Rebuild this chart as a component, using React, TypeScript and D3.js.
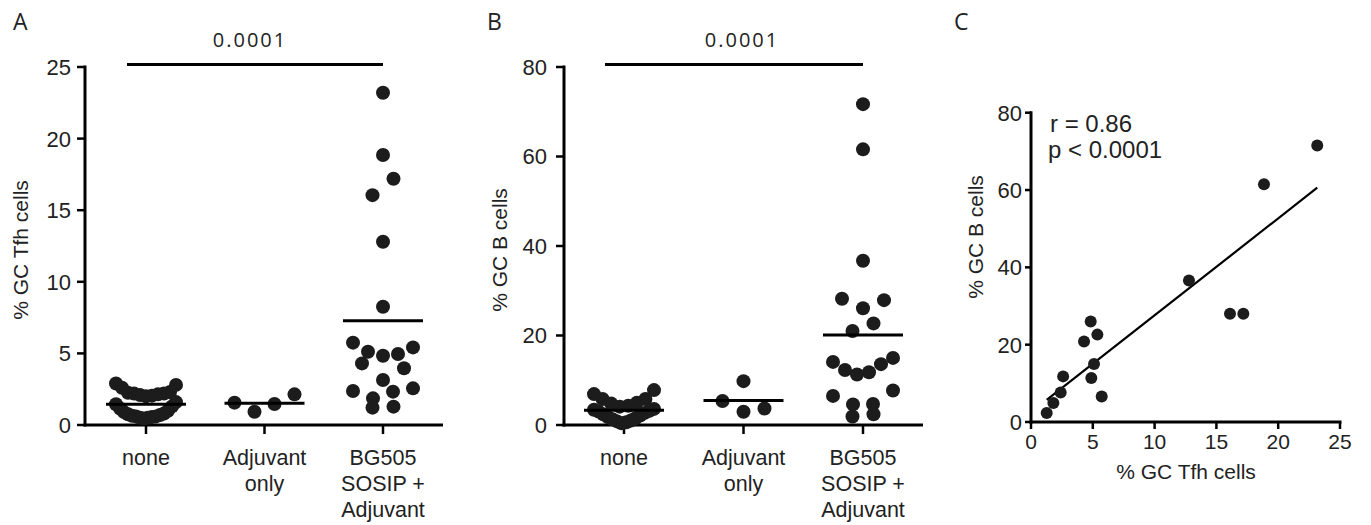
import React from "react";
import * as d3 from "d3";

// ---------- data ----------
const groups = ["none", "Adjuvant only", "BG505 SOSIP + Adjuvant"];
const groupLines = [["none"], ["Adjuvant", "only"], ["BG505", "SOSIP +", "Adjuvant"]];

const tfhNone = [2.9, 2.8, 2.6, 2.3, 2.25, 2.2, 2.2, 2.15, 2.1, 2.05, 2.0, 1.6, 1.45, 1.3, 1.15, 1.0, 0.9, 0.8, 0.75, 0.7, 0.65, 0.6, 0.6, 0.55, 0.5, 0.5, 0.45];
const tfhAdj = [2.14, 1.56, 1.47, 0.93];
const tfhBG = [23.2, 18.85, 17.2, 16.05, 12.8, 8.26, 5.75, 5.42, 5.12, 4.96, 4.84, 4.3, 3.96, 3.14, 2.56, 2.37, 2.33, 1.86, 1.28, 1.21];

const gcbNone = [7.8, 6.9, 5.8, 5.8, 5.0, 4.8, 4.3, 4.1, 3.6, 3.4, 3.2, 3.0, 2.7, 2.4, 2.1, 1.8, 1.5, 1.3, 1.0, 0.8, 0.6, 0.4];
const gcbAdj = [9.8, 5.36, 3.7, 2.97];
const gcbBG = [71.7, 61.6, 36.7, 28.2, 27.9, 26.1, 22.7, 21.0, 15.0, 14.1, 13.6, 12.3, 11.8, 11.3, 7.7, 6.5, 4.7, 4.6, 2.4, 1.9];

const corrTfh = [1.27, 1.81, 2.4, 2.6, 4.29, 4.83, 5.37, 5.1, 4.88, 5.72, 12.78, 16.1, 17.18, 18.85, 23.16];
const corrGcb = [2.3, 4.9, 7.6, 11.8, 20.8, 26.0, 22.6, 15.0, 11.4, 6.6, 36.6, 28.0, 28.0, 61.5, 71.5];

const ticksA = [0, 5, 10, 15, 20, 25];
const ticksB = [0, 20, 40, 60, 80];
const ticksCx = [0, 5, 10, 15, 20, 25];
const ticksCy = [0, 20, 40, 60, 80];

const pValue = "0.0001";
const rText = "r = 0.86";
const pText = "p < 0.0001";

// ---------- helpers ----------
const ARIAL = "'Liberation Sans', Arial, sans-serif";
const OPEN = "'Open Sans', 'Noto Sans', sans-serif";
const DOT = "#1c1c1c";

// Prism-like scatter-dot spreading: rows are built from the top down (a row
// spans at most ROW_H px); within a row the lowest point sits in the middle
// and the others alternate outwards, compressed to fit the column width.
const ROW_H = 17.5;
function spread(values: number[], y: (v: number) => number): number[] {
  const order = values.map((_, i) => i).sort((a, b) => values[b] - values[a]);
  const rows: number[][] = [];
  let cur: number[] = [];
  for (const i of order) {
    if (cur.length && y(values[i]) - y(values[cur[0]]) > ROW_H) {
      rows.push(cur);
      cur = [];
    }
    cur.push(i);
  }
  if (cur.length) rows.push(cur);
  const out = new Array(values.length).fill(0);
  for (const c of rows) {
    const asc = [...c].sort((a, b) => values[a] - values[b]);
    const n = asc.length;
    if (n === 1) continue;
    const step = Math.min(21, 60 / (n - 1));
    const slots: number[] = [];
    if (n % 2 === 1) {
      const m = (n - 1) / 2;
      slots.push(m);
      for (let k = 1; slots.length < n; k++) { slots.push(m + k); slots.push(m - k); }
    } else {
      const m1 = n / 2 - 1, m2 = n / 2;
      for (let k = 0; slots.length < n; k++) { slots.push(m1 - k); slots.push(m2 + k); }
    }
    asc.forEach((idx, j) => {
      out[idx] = (slots[j] - (n - 1) / 2) * step;
    });
  }
  return out;
}

type DotPanelProps = {
  axisX: number;
  right: number;
  catRange: [number, number];
  max: number;
  ticks: number[];
  data: number[][];
  yLabel: string;
  yLabelX: number;
  letter: string;
  letterX: number;
  pTextDx: number;
  tickGap: number;
};

const TOP = 67;
const BOTTOM = 425;

function DotPanel(props: DotPanelProps) {
  const { axisX, right, catRange, max, ticks, data, yLabel, yLabelX, letter, letterX, pTextDx, tickGap } = props;
  const y = d3.scaleLinear().domain([0, max]).range([BOTTOM, TOP]);
  const x = d3.scalePoint<string>().domain(groups).range(catRange);
  const bx0 = (x(groups[0]) as number) - 19;
  const bx1 = x(groups[2]) as number;
  return (
    <g>
      <text x={letterX} y={30} fontFamily={OPEN} fontSize={23} fill="#222">{letter}</text>
      <line x1={bx0} x2={bx1} y1={64.5} y2={64.5} stroke="#000" strokeWidth={3} />
      <text x={(bx0 + bx1) / 2 + pTextDx} y={47} textAnchor="middle" fontFamily={OPEN} fontSize={20} letterSpacing={2} fill="#222">{pValue}</text>
      <line x1={axisX} x2={axisX} y1={TOP - 1.5} y2={BOTTOM + 1.5} stroke="#000" strokeWidth={3} />
      {ticks.map((t) => (
        <g key={t}>
          <line x1={axisX - 8} x2={axisX} y1={y(t)} y2={y(t)} stroke="#000" strokeWidth={2.5} />
          <text x={axisX - tickGap} y={y(t)} dy="0.36em" textAnchor="end" fontFamily={ARIAL} fontSize={22} fill="#222">{t}</text>
        </g>
      ))}
      <text transform={`translate(${yLabelX},${(TOP + BOTTOM) / 2 + 4}) rotate(-90)`} textAnchor="middle" fontFamily={ARIAL} fontSize={21} fill="#222">{yLabel}</text>
      <line x1={axisX - 1.5} x2={right} y1={BOTTOM} y2={BOTTOM} stroke="#000" strokeWidth={3} />
      {groups.map((g, gi) => (
        <g key={g}>
          <line x1={x(g)} x2={x(g)} y1={BOTTOM} y2={BOTTOM + 9} stroke="#000" strokeWidth={2.5} />
          {groupLines[gi].map((ln, li) => (
            <text key={li} x={x(g)} y={465 + li * 25.8} textAnchor="middle" fontFamily={ARIAL} fontSize={21.5} fill="#222">{ln}</text>
          ))}
        </g>
      ))}
      {data.map((vals, gi) => {
        const cx = x(groups[gi]) as number;
        const offs = spread(vals, (v) => y(v));
        const m = d3.mean(vals) as number;
        return (
          <g key={gi}>
            {vals.map((v, i) => (
              <circle key={i} cx={cx + offs[i]} cy={y(v)} r={7} fill={DOT} />
            ))}
            <line x1={cx - 40} x2={cx + 40} y1={y(m)} y2={y(m)} stroke="#000" strokeWidth={3} />
          </g>
        );
      })}
    </g>
  );
}

function CorrPanel() {
  const x = d3.scaleLinear().domain([0, 25]).range([1031, 1340]);
  const y = d3.scaleLinear().domain([0, 80]).range([422, 112.7]);
  const mx = d3.mean(corrTfh) as number;
  const my = d3.mean(corrGcb) as number;
  let sxy = 0, sxx = 0;
  corrTfh.forEach((v, i) => {
    sxy += (v - mx) * (corrGcb[i] - my);
    sxx += (v - mx) * (v - mx);
  });
  const slope = sxy / sxx;
  const icpt = my - slope * mx;
  const [x0, x1] = d3.extent(corrTfh) as [number, number];
  const line = d3.line<number>().x((d) => x(d)).y((d) => y(icpt + slope * d));
  return (
    <g>
      <text x={954} y={30} fontFamily={OPEN} fontSize={23} fill="#222">C</text>
      <line x1={1031} x2={1031} y1={112.7 - 1.5} y2={423.5} stroke="#000" strokeWidth={3} />
      {ticksCy.map((t) => (
        <g key={t}>
          <line x1={1025} x2={1031} y1={y(t)} y2={y(t)} stroke="#000" strokeWidth={2.5} />
          <text x={1022} y={y(t)} dy="0.36em" textAnchor="end" fontFamily={ARIAL} fontSize={22} fill="#222">{t}</text>
        </g>
      ))}
      <line x1={1029.5} x2={1341.5} y1={422} y2={422} stroke="#000" strokeWidth={3} />
      {ticksCx.map((t) => (
        <g key={t}>
          <line x1={x(t)} x2={x(t)} y1={422} y2={429} stroke="#000" strokeWidth={2.5} />
          <text x={x(t)} y={449} textAnchor="middle" fontFamily={ARIAL} fontSize={21} fill="#222">{t}</text>
        </g>
      ))}
      <text x={1186} y={479} textAnchor="middle" fontFamily={ARIAL} fontSize={21} fill="#222">% GC Tfh cells</text>
      <text transform={`translate(983,237) rotate(-90)`} textAnchor="middle" fontFamily={ARIAL} fontSize={21} fill="#222">% GC B cells</text>
      <path d={line([x0, x1]) as string} stroke="#000" strokeWidth={2.2} fill="none" />
      {corrTfh.map((v, i) => (
        <circle key={i} cx={x(v)} cy={y(corrGcb[i])} r={6} fill={DOT} />
      ))}
      <text x={1050} y={132} fontFamily={ARIAL} fontSize={24} fill="#222">{rText}</text>
      <text x={1048} y={158} fontFamily={ARIAL} fontSize={24} fill="#222">{pText}</text>
    </g>
  );
}

export default function App() {
  return (
    <svg width={1371} height={525} style={{ position: "absolute", left: 0, top: 0, background: "#fff" }}>
      <rect width={1371} height={525} fill="#fff" />
      <DotPanel axisX={85} right={443} catRange={[146, 383]} max={25} ticks={ticksA}
        data={[tfhNone, tfhAdj, tfhBG]} yLabel="% GC Tfh cells" yLabelX={28} letter="A" letterX={13}
        pTextDx={-5} tickGap={14} />
      <DotPanel axisX={564} right={923} catRange={[624, 863]} max={80} ticks={ticksB}
        data={[gcbNone, gcbAdj, gcbBG]} yLabel="% GC B cells" yLabelX={507} letter="B" letterX={487}
        pTextDx={8} tickGap={17} />
      <CorrPanel />
    </svg>
  );
}
